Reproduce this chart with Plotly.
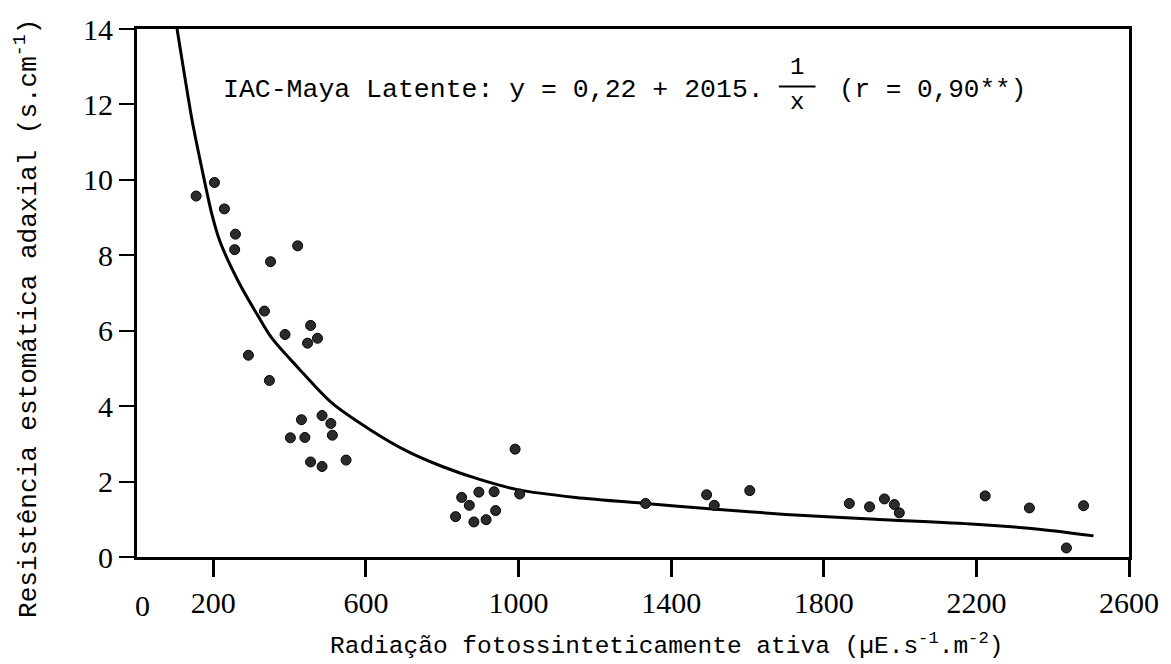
import plotly.graph_objects as go

rad_x = [155, 203, 229, 258, 256, 421, 350, 334, 455, 388, 473, 447, 292, 347,
         431, 485, 508, 512, 402, 440, 455, 485, 548, 991, 851, 871, 896, 936,
         1003, 835, 940, 883, 915, 1333, 1493, 1513, 1606, 1867, 1920, 1959,
         1985, 1998, 2223, 2339, 2481, 2436]
res_y = [9.57, 9.93, 9.23, 8.56, 8.15, 8.25, 7.83, 6.52, 6.14, 5.90, 5.80, 5.67,
         5.35, 4.68, 3.64, 3.75, 3.54, 3.23, 3.16, 3.17, 2.52, 2.40, 2.57, 2.86,
         1.58, 1.37, 1.72, 1.73, 1.67, 1.07, 1.23, 0.93, 0.99, 1.42, 1.65, 1.37,
         1.76, 1.42, 1.33, 1.54, 1.39, 1.17, 1.62, 1.30, 1.36, 0.24]

# Fitted curve as drawn
curve_x = [105, 125, 144, 170, 196, 218, 266, 318, 353, 422, 509, 615, 709,
           800, 900, 1000, 1150, 1333, 1500, 1700, 1935, 2196, 2369, 2507]
curve_y = [14.0, 12.75, 11.6, 10.3, 9.1, 8.35, 7.30, 6.38, 5.81, 5.02, 4.10, 3.35,
           2.80, 2.40, 2.05, 1.78, 1.58, 1.42, 1.28, 1.13, 1.0, 0.87, 0.73, 0.56]

x_ticks = [200, 600, 1000, 1400, 1800, 2200, 2600]
y_ticks = [0, 2, 4, 6, 8, 10, 12, 14]

MONO = "Liberation Mono"
SERIF = "Liberation Serif"

fig = go.Figure()
fig.add_trace(go.Scatter(x=curve_x, y=curve_y, mode="lines",
                         line=dict(color="black", width=3, shape="spline", smoothing=0.8),
                         hoverinfo="skip", showlegend=False))
fig.add_trace(go.Scatter(x=rad_x, y=res_y, mode="markers",
                         marker=dict(color="#2b2b2b", size=10,
                                     line=dict(color="black", width=1)),
                         showlegend=False))

fig.update_layout(
    width=1171, height=664,
    margin=dict(l=137, r=36, t=24, b=107),
    paper_bgcolor="white", plot_bgcolor="white",
    font=dict(family=SERIF, size=30, color="black"),
)
fig.update_xaxes(range=[0, 2600], tickvals=x_ticks, ticks="outside", ticklen=17,
                 tickwidth=3, tickcolor="black", showline=True, linecolor="black",
                 linewidth=3, mirror=True, showgrid=False, zeroline=False,
                 tickfont=dict(family=SERIF, size=30))
fig.update_yaxes(range=[0, 14], tickvals=y_ticks, ticks="outside", ticklen=15,
                 tickwidth=2, tickcolor="black", showline=True, linecolor="black",
                 linewidth=3, mirror=True, showgrid=False, zeroline=False,
                 tickfont=dict(family=SERIF, size=30))

ann = []
# "0" label on x axis
ann.append(dict(text="0", xref="paper", yref="paper", x=0.006, y=0, yshift=-30,
                xanchor="center", yanchor="top", showarrow=False,
                font=dict(family=SERIF, size=30)))
# axis titles
ann.append(dict(text="Radiação fotossinteticamente ativa (µE.s<sup>-1</sup>.m<sup>-2</sup>)",
                xref="paper", yref="paper", x=0.534, y=0, yshift=-70,
                xanchor="center", yanchor="top", showarrow=False,
                font=dict(family=MONO, size=24.5)))
ann.append(dict(text="Resistência estomática adaxial (s.cm<sup>-1</sup>)",
                xref="paper", yref="paper", x=0, xshift=-110, y=1.022,
                xanchor="center", yanchor="top", textangle=-90, showarrow=False,
                font=dict(family=MONO, size=26)))
# equation annotation
ann.append(dict(text="IAC-Maya Latente: y = 0,22 + 2015.",
                xref="paper", yref="paper", x=0.085, y=0.885,
                xanchor="left", yanchor="middle", showarrow=False,
                font=dict(family=MONO, size=26.5)))
ann.append(dict(text="1", xref="paper", yref="paper", x=0.665, y=0.927,
                xanchor="center", yanchor="middle", showarrow=False,
                font=dict(family=MONO, size=24)))
ann.append(dict(text="x", xref="paper", yref="paper", x=0.665, y=0.86,
                xanchor="center", yanchor="middle", showarrow=False,
                font=dict(family=MONO, size=24)))
ann.append(dict(text="(r = 0,90**)", xref="paper", yref="paper", x=0.706, y=0.885,
                xanchor="left", yanchor="middle", showarrow=False,
                font=dict(family=MONO, size=26)))
fig.update_layout(annotations=ann)
fig.add_shape(type="line", xref="paper", yref="paper", x0=0.647, x1=0.684,
              y0=0.891, y1=0.891, line=dict(color="black", width=2))

fig.write_html("out.html")
